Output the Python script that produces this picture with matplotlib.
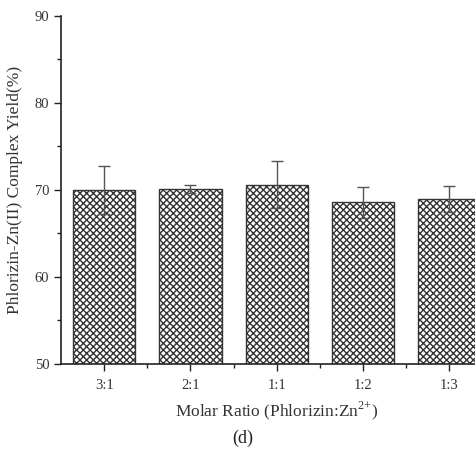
import numpy as np
import matplotlib
matplotlib.use('Agg')
import matplotlib.pyplot as plt
from matplotlib.ticker import MultipleLocator, FixedLocator

# data
ratios = ['3:1', '2:1', '1:1', '1:2', '1:3']
yields = [70.0, 70.1, 70.6, 68.6, 69.0]
errors = [2.8, 0.5, 2.7, 1.8, 1.5]

plt.rcParams['font.family'] = ['Liberation Serif', 'DejaVu Serif']
plt.rcParams['mathtext.fontset'] = 'custom'
plt.rcParams['mathtext.rm'] = 'Liberation Serif'
plt.rcParams['hatch.linewidth'] = 1.0
plt.rcParams['hatch.color'] = '#333333'

fig = plt.figure(figsize=(4.75, 4.49), dpi=100)
# axes runs past the right edge like the cropped original
ax = fig.add_axes([61 / 475, 85 / 449, 431.5 / 475, 348 / 449])

x = np.arange(len(ratios))
ax.bar(x, yields, width=0.72, color='white', edgecolor='#333333',
       linewidth=1.0, hatch='xxxxx', zorder=2)
ax.errorbar(x, yields, yerr=errors, fmt='none', ecolor='#555555',
            elinewidth=1.0, capsize=4, capthick=1.0, zorder=3)

ax.set_xlim(-0.5, 4.5)
ax.set_ylim(50, 90)
ax.set_xticks(x)
ax.set_xticklabels(ratios)
ax.xaxis.set_minor_locator(FixedLocator(x[:-1] + 0.5))
ax.yaxis.set_major_locator(MultipleLocator(10))
ax.yaxis.set_minor_locator(MultipleLocator(5))

for s in ['top', 'right']:
    ax.spines[s].set_visible(False)
for s in ['left', 'bottom']:
    ax.spines[s].set_linewidth(1.2)
    ax.spines[s].set_color('#222222')

ax.tick_params(axis='both', which='major', direction='out', length=5, width=1.0,
               labelsize=10.5, colors='#222222', labelcolor='#333333')
ax.tick_params(axis='both', which='minor', direction='out', length=3, width=1.0,
               colors='#222222')
ax.tick_params(axis='x', pad=6)

ax.set_ylabel('Phlorizin-Zn(II) Complex Yield(%)', fontsize=12.5, color='#333333', labelpad=8)
ax.set_xlabel('Molar Ratio (Phlorizin:Zn$^{2{+}}$)', fontsize=12.5, color='#333333', labelpad=5)
fig.text(243 / 475, 1 - 438 / 449, '(d)', ha='center', va='center', fontsize=13, color='#222222')

fig.savefig('out.png', dpi=100)
